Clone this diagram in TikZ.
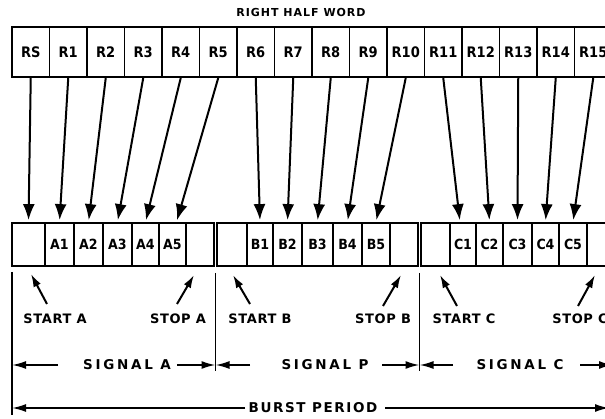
\documentclass[tikz,border=0pt]{standalone}
\usepackage{fontspec}
\setmainfont{DejaVu Sans}
\newfontfamily\condfont{DejaVu Sans Condensed}
\usetikzlibrary{arrows.meta}
\begin{document}
\begin{tikzpicture}[x=1pt,y=-1pt,
  topbox/.style={draw, line width=1.8pt, minimum width=37.5pt, minimum height=50pt, inner sep=0pt,
    font=\condfont\bfseries\fontsize{14.5}{16}\selectfont},
  cellbox/.style={draw, line width=1.8pt, minimum height=43pt, inner sep=0pt,
    font=\condfont\bfseries\fontsize{14}{15}\selectfont},
  feed/.style={line width=2pt, -{Latex[length=16pt,width=12pt]}, shorten >=2pt},
  pointer/.style={line width=2pt, -{Latex[length=13pt,width=8pt]}},
  dimarrow/.style={line width=1.8pt, -{Latex[length=14pt,width=8pt]}},
  rule/.style={line width=1.8pt},
  lbl/.style={inner sep=0pt, font=\bfseries\fontsize{13}{14}\selectfont\addfontfeatures{LetterSpace=5}},
  siglbl/.style={inner sep=0pt, font=\bfseries\fontsize{13.5}{14}\selectfont\addfontfeatures{LetterSpace=20}},
  burstlbl/.style={inner sep=0pt, font=\bfseries\fontsize{13.5}{14}\selectfont\addfontfeatures{LetterSpace=12}},
  titlelbl/.style={inner sep=0pt, font=\bfseries\fontsize{11}{12}\selectfont\addfontfeatures{LetterSpace=9}}
]
\useasboundingbox (0,0) rectangle (605,419);
\clip (0,0) rectangle (605,419);

% title
\node[titlelbl] (title) at (301,13) {RIGHT HALF WORD};

% top register
\foreach \t [count=\i from 0] in {RS,R1,R2,R3,R4,R5,R6,R7,R8,R9,R10,R11,R12,R13,R14,R15}
  \node[topbox] (r\i) at ({30.75+37.5*\i},52) {\t};

% bottom cells
\foreach \l/\r/\t/\n in {12/45//a0, 45/74/A1/a1, 74/103/A2/a2, 103/132/A3/a3, 132/159/A4/a4, 159/186/A5/a5, 186/214//a6,
  217/247//b0, 247/273/B1/b1, 273/302/B2/b2, 302/333/B3/b3, 333/362/B4/b4, 362/390/B5/b5, 390/418//b6,
  421/450//c0, 450/476/C1/c1, 476/503/C2/c2, 503/532/C3/c3, 532/559/C4/c4, 559/587/C5/c5, 587/615//c6}
  \node[cellbox, minimum width={(\r-\l)*1pt}] (\n) at ({(\l+\r)/2},244.5) {\t};

% feed arrows
\foreach \i/\c in {0/a0,1/a1,2/a2,3/a3,4/a4,6/b1,7/b2,8/b3,9/b4,10/b5,12/c2,13/c3,14/c4,15/c5}
  \draw[feed] (r\i.south) -- (\c.north);
\draw[feed] (r5.south) -- ([xshift=4pt]a5.north);
\draw[feed] (r11.south) -- ([xshift=-3pt]c1.north);

% vertical rules
\coordinate (l0) at (12,272);
\coordinate (l1) at (12,415);
\coordinate (m0) at (215.5,273);
\coordinate (m1) at (215.5,371);
\coordinate (n0) at (419.5,273);
\coordinate (n1) at (419.5,371);
\draw[rule] (l0) -- (l1);
\draw[rule] (m0) -- (m1);
\draw[rule] (n0) -- (n1);

% start / stop labels
\node[lbl] (startA) at (55,319) {START A};
\node[lbl] (stopA) at (178,319) {STOP A};
\node[lbl] (startB) at (260,319) {START B};
\node[lbl] (stopB) at (383,319) {STOP B};
\node[lbl] (startC) at (464,319) {START C};
\node[lbl] (stopC) at (580,319) {STOP C};

\coordinate (tA0) at (47,304); \coordinate (hA0) at (31,274);
\coordinate (tA1) at (177,304); \coordinate (hA1) at (194,275);
\coordinate (tB0) at (250,304); \coordinate (hB0) at (233,275);
\coordinate (tB1) at (383,306); \coordinate (hB1) at (401,275);
\coordinate (tC0) at (457,306); \coordinate (hC0) at (440,275);
\coordinate (tC1) at (578,306); \coordinate (hC1) at (595,275);
\foreach \p in {A0,A1,B0,B1,C0,C1}
  \draw[pointer] (t\p) -- (h\p);

% signal row
\node[siglbl] (sigA) at (127,365) {SIGNAL A};
\node[siglbl] (sigP) at (325,365) {SIGNAL P};
\node[siglbl] (sigC) at (520,365) {SIGNAL C};
\coordinate (s0) at (12,365);
\coordinate (s1) at (215.5,365);
\coordinate (s2) at (419.5,365);
\coordinate (s3) at (613,365);
\draw[dimarrow] (58,365) -- (s0);
\draw[dimarrow] (177,365) -- (s1);
\draw[dimarrow] (250,365) -- (s1);
\draw[dimarrow] (382,365) -- (s2);
\draw[dimarrow] (453,365) -- (s2);
\draw[dimarrow] (580,365) -- (s3);

% burst period
\node[burstlbl] (burst) at (313,408) {BURST PERIOD};
\coordinate (b0) at (12,408);
\coordinate (b1) at (609,408);
\draw[dimarrow] (245,408) -- (b0);
\draw[dimarrow] (385,408) -- (b1);
\end{tikzpicture}
\end{document}
